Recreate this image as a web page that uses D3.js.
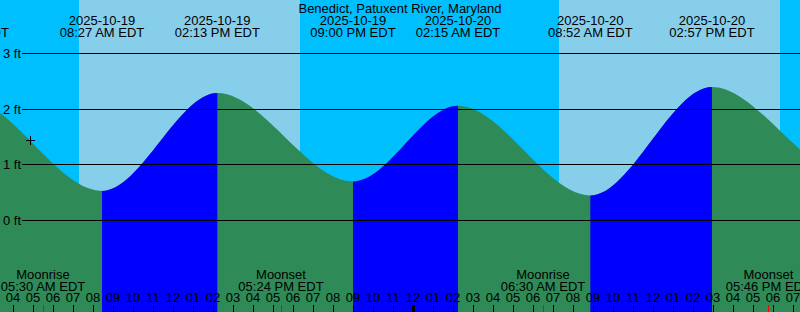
<!DOCTYPE html>
<html><head><meta charset="utf-8">
<script src="https://cdn.jsdelivr.net/npm/d3@7"></script>
<style>
body{margin:0;overflow:hidden;background:#fff}
svg{display:block}
text{font-family:"Liberation Sans",Arial,Helvetica,sans-serif;font-size:13px;fill:#000}
</style>
</head><body>
<svg id="chart" width="800" height="312"></svg>
<script>
// ---- data ----
const title = "Benedict, Patuxent River, Maryland";
const timeStart = "2025-10-19T03:21";
const timeEnd = "2025-10-20T19:21";
const tideTimes = ["2025-10-18T20:20","2025-10-19T01:41","2025-10-19T08:27","2025-10-19T14:13","2025-10-19T21:00",
                   "2025-10-20T02:15","2025-10-20T08:52","2025-10-20T14:57","2025-10-20T21:40","2025-10-21T03:05"];
const tideHeights = [0.75, 2.18, 0.53, 2.29, 0.70, 2.06, 0.45, 2.40, 0.85, 2.10];
const sunriseTimes = ["2025-10-19T07:18","2025-10-20T07:18"];
const sunsetTimes  = ["2025-10-19T18:21","2025-10-20T18:21"];
const moonEventNames = ["Moonrise","Moonset","Moonrise","Moonset"];
const moonEventTimes = ["2025-10-19T05:30","2025-10-19T17:24","2025-10-20T06:30","2025-10-20T17:46"];
const heightTicks = [0, 1, 2, 3];
const markerTime = "2025-10-19T04:51";
const markerHeight = 1.45;

// ---- setup ----
const W = 800, H = 312;
const parse = d3.utcParse("%Y-%m-%dT%H:%M");
const fmtDate = d3.utcFormat("%Y-%m-%d");
const fmtTime = d => d3.utcFormat("%I:%M %p")(d) + " EDT";
const fmtHour = d3.utcFormat("%I");

const svg = d3.select("#chart");
const x = d3.scaleUtc().domain([parse(timeStart), parse(timeEnd)]).range([0, W]);
const y = d3.scaleLinear().domain([0, 3]).range([220.5, 53.5]);

const tides = tideTimes.map((t, i) => ({t: parse(t), h: tideHeights[i]}));

// background: night then day bands
svg.append("rect").attr("x",0).attr("y",0).attr("width",W).attr("height",H).attr("fill","#00bfff");
svg.selectAll("rect.day").data(sunriseTimes).enter().append("rect").attr("class","day")
  .attr("x", (d,i) => x(parse(d)))
  .attr("y", 0)
  .attr("width", (d,i) => x(parse(sunsetTimes[i])) - x(parse(d)))
  .attr("height", H)
  .attr("fill", "#87ceeb");

// tide area
const area = d3.area().x(d => x(d.t)).y0(H).y1(d => y(d.h)).curve(d3.curveMonotoneX);
svg.append("path").datum(tides).attr("d", area).attr("fill", "#2e8b57");

// rising (flood) segments in blue
const defs = svg.append("defs");
const rising = [];
for (let i = 0; i < tides.length - 1; i++) if (tides[i+1].h > tides[i].h) rising.push([tides[i].t, tides[i+1].t]);
const clip = defs.append("clipPath").attr("id","risingClip");
clip.selectAll("rect").data(rising).enter().append("rect")
  .attr("x", d => x(d[0])).attr("y", 0)
  .attr("width", d => x(d[1]) - x(d[0])).attr("height", H);
svg.append("path").datum(tides).attr("d", area).attr("fill", "#0000ff").attr("clip-path","url(#risingClip)");

// height grid lines & labels
const g = svg.append("g");
heightTicks.forEach(h => {
  const yy = Math.floor(y(h)) + 0.5;
  g.append("line").attr("x1", 22).attr("x2", W).attr("y1", yy).attr("y2", yy)
    .attr("stroke", "#000").attr("stroke-width", 1);
  g.append("text").attr("x", 3).attr("y", yy + 4.5).text(h + " ft");
});

// marker
const mx = Math.round(x(parse(markerTime))) + 0.5, my = Math.round(y(markerHeight)) + 0.5;
svg.append("line").attr("x1", mx - 4.5).attr("x2", mx + 4.5).attr("y1", my).attr("y2", my).attr("stroke","#000");
svg.append("line").attr("x1", mx).attr("x2", mx).attr("y1", my - 4.5).attr("y2", my + 4.5).attr("stroke","#000");

// title
svg.append("text").attr("x", W/2).attr("y", 12.5).attr("text-anchor","middle").text(title);

// tide event labels
const tl = svg.selectAll("g.tl").data(tides).enter().append("g").attr("class","tl");
tl.append("text").attr("x", d => x(d.t)).attr("y", 24.5).attr("text-anchor","middle").text(d => fmtDate(d.t));
tl.append("text").attr("x", d => x(d.t)).attr("y", 36.5).attr("text-anchor","middle").text(d => fmtTime(d.t));

// moon events
moonEventTimes.forEach((t, i) => {
  const d = parse(t), xx = x(d);
  svg.append("text").attr("x", xx).attr("y", 278.5).attr("text-anchor","middle").text(moonEventNames[i]);
  svg.append("text").attr("x", xx).attr("y", 290.5).attr("text-anchor","middle").text(fmtTime(d));
});

// hour ticks
const hours = d3.utcHour.range(d3.utcHour.floor(x.domain()[0]), d3.utcHour.offset(x.domain()[1], 1));
hours.forEach(d => {
  const xx = Math.round(x(d)) + 0.5;
  const mid = d.getUTCHours() === 0;
  svg.append("line").attr("x1", xx).attr("x2", xx).attr("y1", 305).attr("y2", H)
    .attr("stroke", "#000").attr("stroke-width", mid ? 3 : 1);
  svg.append("text").attr("x", x(d)).attr("y", 302).attr("text-anchor","middle").text(fmtHour(d));
});
moonEventTimes.forEach(t => {
  const xx = Math.round(x(parse(t))) + 0.5;
  svg.append("line").attr("x1", xx).attr("x2", xx).attr("y1", 305).attr("y2", H)
    .attr("stroke", "#ff0000").attr("stroke-width", 1);
});
</script>
</body></html>
